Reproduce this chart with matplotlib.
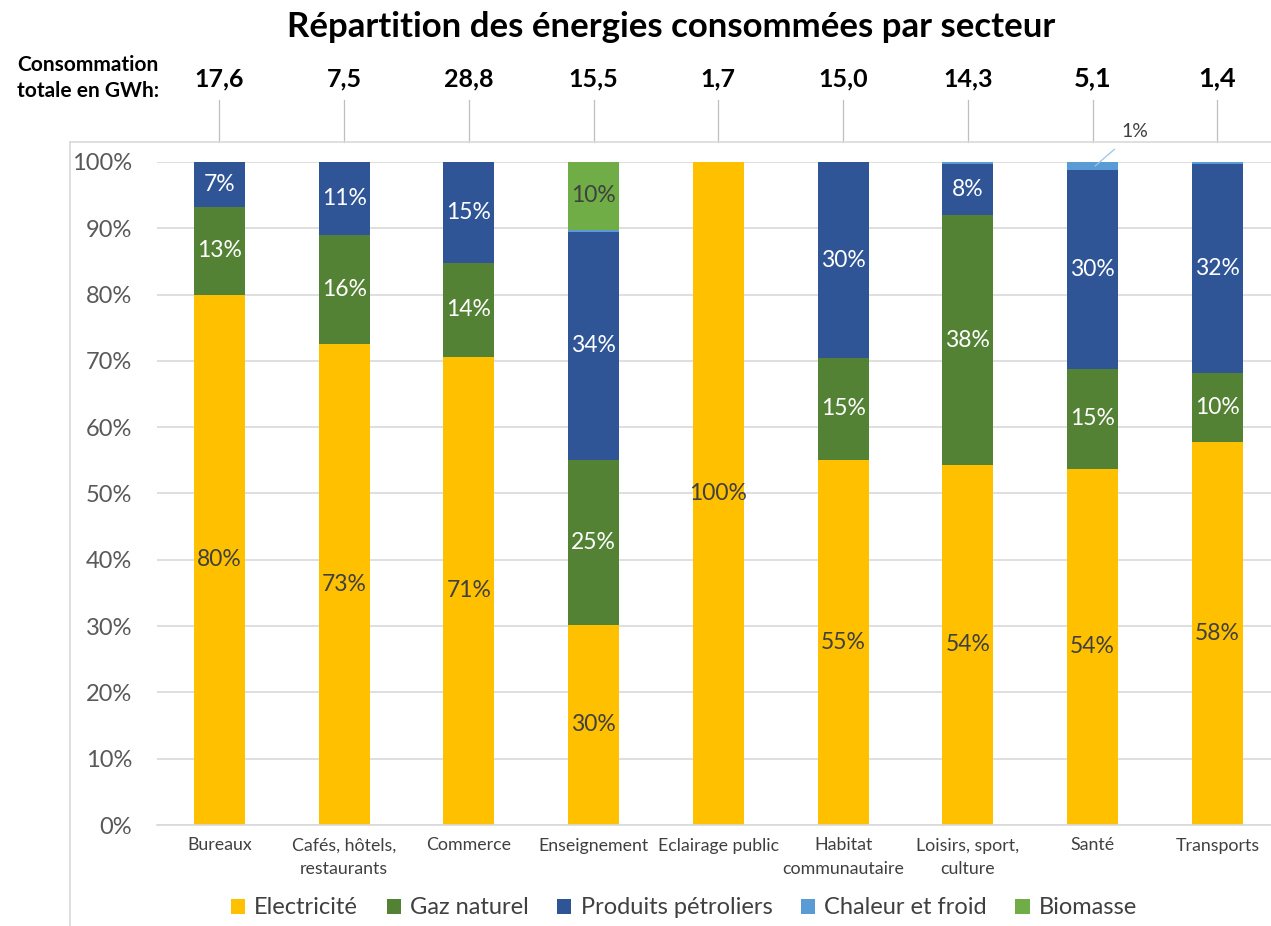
import matplotlib.pyplot as plt
from matplotlib.lines import Line2D

plt.rcParams['font.family'] = ['Lato', 'DejaVu Sans']

# --- Data ---
secteurs = ['Bureaux', 'Cafés, hôtels,\nrestaurants', 'Commerce', 'Enseignement',
            'Eclairage public', 'Habitat\ncommunautaire', 'Loisirs, sport,\nculture',
            'Santé', 'Transports']
conso_totale = ['17,6', '7,5', '28,8', '15,5', '1,7', '15,0', '14,3', '5,1', '1,4']

electricite = [80.0, 72.6, 70.6, 30.2, 100.0, 55.1, 54.3, 53.7, 57.8]
gaz_naturel = [13.2, 16.4, 14.2, 24.9, 0.0, 15.3, 37.7, 15.1, 10.3]
produits_petroliers = [6.8, 11.0, 15.2, 34.4, 0.0, 29.6, 7.7, 30.0, 31.6]
chaleur_froid = [0.0, 0.0, 0.0, 0.3, 0.0, 0.0, 0.3, 1.2, 0.3]
biomasse = [0.0, 0.0, 0.0, 10.2, 0.0, 0.0, 0.0, 0.0, 0.0]

series = [
    ('Electricité', electricite, '#FFC000', '#404040'),
    ('Gaz naturel', gaz_naturel, '#548235', 'white'),
    ('Produits pétroliers', produits_petroliers, '#2F5597', 'white'),
    ('Chaleur et froid', chaleur_froid, '#5B9BD5', 'white'),
    ('Biomasse', biomasse, '#70AD47', '#404040'),
]

W, H = 1271, 926
fig = plt.figure(figsize=(W / 100, H / 100), dpi=100)

# axes from x=157 to 1271, y=162 (100%) to 825 (0%)
ax = fig.add_axes([157 / W, 1 - 825 / H, (1271 - 157) / W, (825 - 162) / H])

x = list(range(len(secteurs)))
bottom = [0.0] * len(secteurs)
handles = []
for name, vals, color, txtcol in series:
    bars = ax.bar(x, vals, width=0.41, bottom=bottom, color=color, zorder=2)
    handles.append(bars)
    for i, v in enumerate(vals):
        if v >= 5:
            ax.text(i, bottom[i] + v / 2, f"{v:.0f}%", ha='center', va='center',
                    color=txtcol, fontsize=16.5, zorder=3)
    bottom = [b + v for b, v in zip(bottom, vals)]

# small "1%" label for Santé chaleur et froid, outside with leader line
i_sante = 7
ax.annotate(f"{chaleur_froid[i_sante]:.0f}%",
            xy=(i_sante + 0.02, 100 - chaleur_froid[i_sante] / 2),
            xytext=(i_sante + 0.34, 104.6), ha='center', va='center',
            fontsize=14, color='#404040', annotation_clip=False,
            arrowprops=dict(arrowstyle='-', color='#9DC3E6', lw=0.9,
                            shrinkA=7, shrinkB=0))

ax.set_xlim(-0.5, 8.43)
ax.set_ylim(0, 100)
ax.set_yticks(range(0, 101, 10))
ax.set_yticklabels([f"{t}%" for t in range(0, 101, 10)], fontsize=17, color='#595959')
ax.set_xticks(x)
ax.set_xticklabels(secteurs, fontsize=12.8, color='#404040', linespacing=1.55, va='top')
ax.tick_params(axis='both', length=0)
ax.tick_params(axis='x', pad=9)
ax.tick_params(axis='y', pad=18)
ax.grid(axis='y', color='#D9D9D9', lw=1.2, zorder=0)
for s in ['top', 'right', 'left']:
    ax.spines[s].set_visible(False)
ax.spines['bottom'].set_color('#D9D9D9')
ax.spines['bottom'].set_linewidth(1.2)

# Consumption totals above each bar with thin vertical connectors
for i, txt in enumerate(conso_totale):
    fs = 19.5 if i >= 7 else 18
    ax.text(i, 112.6, txt, ha='center', va='center', fontsize=fs,
            fontweight='bold', color='black', clip_on=False)
    ax.add_line(Line2D([i, i], [103.0, 109.4], color='#BFBFBF', lw=0.9,
                       clip_on=False))

fig.text(88 / W, 1 - 78 / H, 'Consommation\ntotale en GWh:', ha='center', va='center',
         fontsize=15, fontweight='bold', linespacing=1.35)

# Chart-area border (left and top)
fig.add_artist(Line2D([70 / W, 70 / W], [0, 1 - 142 / H], color='#D9D9D9', lw=1.2))
fig.add_artist(Line2D([70 / W, 1], [1 - 142 / H, 1 - 142 / H], color='#D9D9D9', lw=1.2))

fig.suptitle('Répartition des énergies consommées par secteur', x=0.528, y=1 - 27 / H,
             va='center', fontsize=25, fontweight='bold')

fig.legend(handles, [s[0] for s in series], loc='center', ncol=5,
           bbox_to_anchor=(684 / W, 1 - 908 / H), frameon=False, fontsize=17,
           handlelength=0.6, handleheight=0.6, handletextpad=0.4, columnspacing=1.2,
           labelcolor='#404040')

fig.savefig('out.png', dpi=100)
